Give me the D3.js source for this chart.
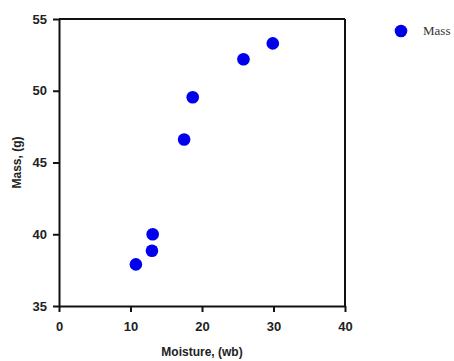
<!DOCTYPE html>
<html>
<head>
<meta charset="utf-8">
<script src="https://cdn.jsdelivr.net/npm/d3@7"></script>
<style>
  body { margin: 0; background: #fff; }
  svg text { font-family: "Liberation Sans", Arial, sans-serif; }
</style>
</head>
<body>
<div id="chart"></div>
<script>
// data
var moisture = [10.75, 13.0, 13.1, 17.5, 18.7, 25.8, 29.9];
var mass = [37.9, 38.85, 40.0, 46.6, 49.55, 52.2, 53.3];
var xTicks = [0, 10, 20, 30, 40];
var yTicks = [35, 40, 45, 50, 55];
var seriesName = "Mass";

var width = 454, height = 361;
var margin = { top: 19, right: 109, bottom: 55, left: 59 };
var w = width - margin.left - margin.right,
  h = height - margin.top - margin.bottom;

var svg = d3.select("#chart")
  .append("svg")
  .attr("width", width)
  .attr("height", height);

var g = svg.append("g")
  .attr("transform", "translate(" + margin.left + "," + margin.top + ")");

var x = d3.scaleLinear().domain([0, 40]).range([0, w]);
var y = d3.scaleLinear().domain([35, 55]).range([h, 0]);

// frame: top and right lines
g.append("line")
  .attr("x1", 0).attr("x2", w).attr("y1", 0).attr("y2", 0)
  .attr("stroke", "#111").attr("stroke-width", 2);
g.append("line")
  .attr("x1", w).attr("x2", w).attr("y1", 0).attr("y2", h)
  .attr("stroke", "#111").attr("stroke-width", 2);

var xAxis = g.append("g")
  .attr("transform", "translate(0," + h + ")")
  .call(d3.axisBottom(x).tickValues(xTicks).tickSize(6).tickSizeOuter(0).tickPadding(10));
var yAxis = g.append("g")
  .call(d3.axisLeft(y).tickValues(yTicks).tickSize(6).tickSizeOuter(0).tickPadding(6));

[xAxis, yAxis].forEach(function (a) {
  a.select(".domain").attr("stroke", "#111").attr("stroke-width", 2);
  a.selectAll(".tick line").attr("stroke", "#111").attr("stroke-width", 2);
  a.selectAll(".tick text")
    .style("font-size", "13px")
    .style("font-weight", "bold")
    .style("fill", "#222");
});

// axis titles
svg.append("text")
  .attr("x", margin.left + w / 2)
  .attr("y", 356)
  .attr("text-anchor", "middle")
  .style("font-size", "12px")
  .style("font-weight", "bold")
  .style("fill", "#222")
  .text("Moisture, (wb)");

svg.append("text")
  .attr("transform", "translate(21," + (margin.top + h / 2) + ") rotate(-90)")
  .attr("text-anchor", "middle")
  .style("font-size", "12px")
  .style("font-weight", "bold")
  .style("fill", "#222")
  .text("Mass, (g)");

// points
g.selectAll("circle.pt")
  .data(moisture)
  .enter()
  .append("circle")
  .attr("class", "pt")
  .attr("cx", function (d) { return x(d); })
  .attr("cy", function (d, i) { return y(mass[i]); })
  .attr("r", 6.3)
  .attr("fill", "#0000ee");

// legend
svg.append("circle")
  .attr("cx", 401).attr("cy", 31).attr("r", 6.3)
  .attr("fill", "#0000ee");
svg.append("text")
  .attr("x", 423).attr("y", 35)
  .style("font-family", "'Liberation Serif', 'Times New Roman', serif")
  .style("font-size", "13px")
  .style("fill", "#333")
  .text(seriesName);
</script>
</body>
</html>
